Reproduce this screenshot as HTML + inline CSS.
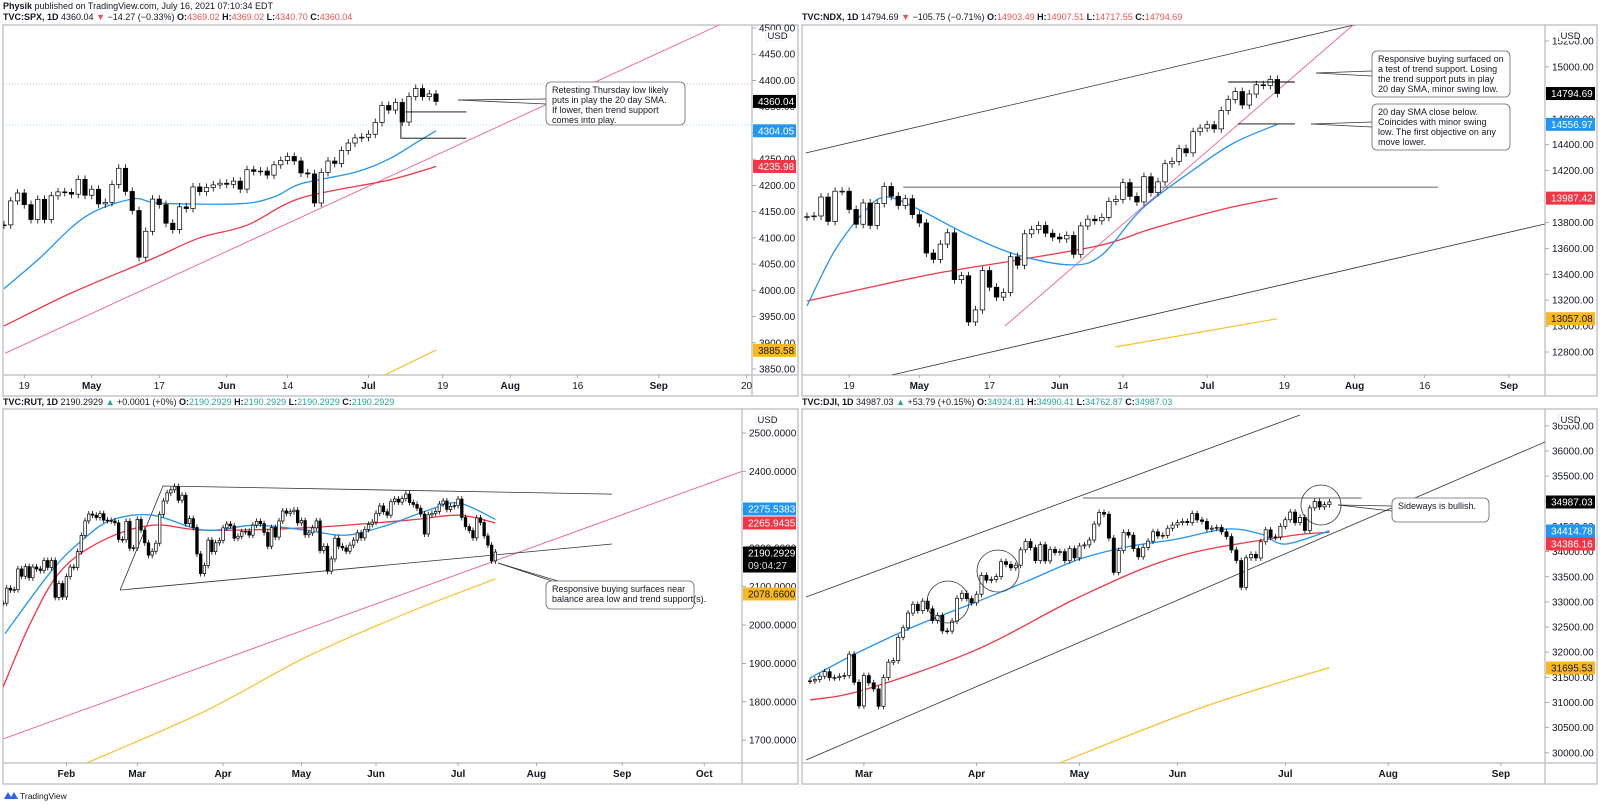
<!DOCTYPE html>
<html><head><meta charset="utf-8"><title>Index charts</title>
<style>
html,body{margin:0;padding:0;background:#fff;}
svg{display:block;font-family:"Liberation Sans",sans-serif;}
</style></head>
<body>
<svg id="chart" width="1600" height="805" viewBox="0 0 1600 805" xmlns="http://www.w3.org/2000/svg">
<text x="3" y="9" font-size="9" fill="#131722"><tspan font-weight="bold">Physik</tspan> published on TradingView.com, July 16, 2021 07:10:34 EDT</text>
<text x="3" y="20" font-size="9" fill="#131722"><tspan font-weight="bold">TVC:SPX, 1D</tspan> 4360.04 <tspan fill="#ef5350">▼</tspan> −14.27 (−0.33%) <tspan font-weight="bold">O:</tspan><tspan fill="#ef5350">4369.02</tspan> <tspan font-weight="bold">H:</tspan><tspan fill="#ef5350">4369.02</tspan> <tspan font-weight="bold">L:</tspan><tspan fill="#ef5350">4340.70</tspan> <tspan font-weight="bold">C:</tspan><tspan fill="#ef5350">4360.04</tspan></text>
<text x="802" y="20" font-size="9" fill="#131722"><tspan font-weight="bold">TVC:NDX, 1D</tspan> 14794.69 <tspan fill="#ef5350">▼</tspan> −105.75 (−0.71%) <tspan font-weight="bold">O:</tspan><tspan fill="#ef5350">14903.49</tspan> <tspan font-weight="bold">H:</tspan><tspan fill="#ef5350">14907.51</tspan> <tspan font-weight="bold">L:</tspan><tspan fill="#ef5350">14717.55</tspan> <tspan font-weight="bold">C:</tspan><tspan fill="#ef5350">14794.69</tspan></text>
<text x="3" y="405" font-size="9" fill="#131722"><tspan font-weight="bold">TVC:RUT, 1D</tspan> 2190.2929 <tspan fill="#26a69a">▲</tspan> +0.0001 (+0%) <tspan font-weight="bold">O:</tspan><tspan fill="#26a69a">2190.2929</tspan> <tspan font-weight="bold">H:</tspan><tspan fill="#26a69a">2190.2929</tspan> <tspan font-weight="bold">L:</tspan><tspan fill="#26a69a">2190.2929</tspan> <tspan font-weight="bold">C:</tspan><tspan fill="#26a69a">2190.2929</tspan></text>
<text x="802" y="405" font-size="9" fill="#131722"><tspan font-weight="bold">TVC:DJI, 1D</tspan> 34987.03 <tspan fill="#26a69a">▲</tspan> +53.79 (+0.15%) <tspan font-weight="bold">O:</tspan><tspan fill="#26a69a">34924.81</tspan> <tspan font-weight="bold">H:</tspan><tspan fill="#26a69a">34990.41</tspan> <tspan font-weight="bold">L:</tspan><tspan fill="#26a69a">34762.87</tspan> <tspan font-weight="bold">C:</tspan><tspan fill="#26a69a">34987.03</tspan></text>
<g>
<path d="M4 799 L8 792 L11 797 L14 792 L18 799 Z" fill="#2962ff"/>
<text x="20" y="799" font-size="8.5" fill="#131722">TradingView</text>
</g>
</svg>
<script>
// ---------- DATA ----------
const spxClose=[4124.66,4170.42,4185.47,4163.26,4134.94,4173.42,4134.98,4180.17,4187.62,4186.72,4183.18,4211.47,4181.17,4192.66,4164.66,4167.59,4201.62,4232.60,4188.43,4152.10,4063.04,4112.50,4173.85,4163.29,4127.83,4115.68,4159.12,4155.86,4197.05,4188.13,4195.99,4200.88,4204.11,4202.04,4208.12,4192.85,4229.89,4226.52,4227.26,4219.55,4239.18,4247.44,4255.15,4246.59,4223.70,4221.86,4166.45,4224.79,4246.44,4241.84,4266.49,4280.70,4290.61,4291.80,4297.50,4319.94,4352.34,4343.54,4358.13,4320.82,4369.55,4384.63,4369.21,4374.30,4360.03];
const spxSma20=[[0,4003],[5,4058],[12,4140],[19,4174],[23,4166],[35,4165],[40,4178],[44,4203],[52,4225],[57,4250],[61,4281],[64,4304]];
const spxSma50=[[0,3932],[10,3995],[21.6,4058],[29,4100],[36,4124],[44,4176],[57,4210],[64,4236]];
const spxSma200=[[55,3830],[64,3886]];
const spxTrend=[[0.15,3880],[106,4506]];
const spxTicks=[4500,4450,4400,4350,4300,4250,4200,4150,4100,4050,4000,3950,3900,3850];
const spxDates=[["19",3],["May",13],["17",23],["Jun",33],["14",42],["Jul",54],["19",65],["Aug",75],["16",85],["Sep",97],["20",110]];

const ndxClose=[13845,13850,13996,13808,14041,14041,13900,13786,13950,13777,13946,14078,14002,13931,13983,13860,13796,13564,13515,13633,13720,13359,13389,13032,13125,13429,13300,13224,13260,13535,13470,13712,13744,13777,13717,13687,13673,13700,13554,13773,13825,13813,13839,13962,13978,14107,14001,13958,14153,14030,14113,14253,14271,14369,14337,14500,14528,14554,14522,14663,14749,14810,14706,14791,14862,14857,14903,14795];
const ndxSma20=[[0,13155],[4,13587],[8.5,13904],[11.4,13996],[15.8,13904],[23,13703],[30,13549],[37.6,13472],[42,13549],[47.7,13904],[55,14204],[60.8,14413],[67,14557]];
const ndxSma50=[[0,13194],[8.5,13294],[18.7,13410],[30,13510],[42,13626],[49,13749],[59.4,13904],[67,13987]];
const ndxSma200=[[43.9,12839],[67,13057]];
const ndxUpper=[[-0.2,14336],[79.8,15347]];
const ndxLower=[[12.1,12623],[105.1,13788]];
const ndxTrend=[[28.2,13001],[78.3,15347]];
const ndxTicks=[15200,15000,14800,14600,14400,14200,14000,13800,13600,13400,13200,13000,12800];
const ndxDates=[["19",6],["May",16],["17",26],["Jun",36],["14",45],["Jul",57],["19",68],["Aug",78],["16",88],["Sep",100]];

const rutClose=[2057,2096,2091,2092,2146,2127,2152,2123,2151,2146,2142,2168,2150,2168,2072,2108,2073,2126,2151,2150,2191,2233,2271,2289,2286,2280,2290,2273,2272,2271,2266,2223,2222,2270,2200,2201,2275,2247,2214,2182,2192,2213,2288,2323,2344,2352,2361,2325,2338,2264,2277,2254,2185,2134,2155,2221,2191,2214,2220,2253,2263,2258,2226,2231,2243,2244,2234,2260,2270,2264,2241,2205,2254,2229,2271,2297,2291,2295,2299,2266,2272,2235,2240,2253,2271,2194,2205,2140,2172,2226,2205,2201,2192,2208,2221,2240,2227,2249,2262,2268,2291,2310,2295,2286,2321,2328,2320,2329,2341,2319,2314,2304,2289,2237,2287,2291,2296,2315,2323,2301,2309,2311,2328,2280,2256,2246,2227,2279,2267,2232,2208,2167,2190];
const rutSma20=[[0.5,1977],[13,2141],[21,2219],[29,2273],[40,2286],[54,2247],[67.6,2260],[81,2247],[92,2234],[103,2260],[114,2299],[122,2318],[132,2275]];
const rutSma50=[[0,1838],[7.5,2008],[15.5,2141],[26.5,2219],[40,2260],[54,2247],[81,2253],[108.6,2273],[122,2286],[132,2266]];
const rutSma200=[[22.5,1641],[54,1775],[81,1915],[108,2030],[132,2120]];
const rutTrend=[[0,1703],[198.1,2400]];
const rutBalance=[[31.4,2091],[42.9,2362],[163.3,2341]];
const rutBalanceLow=[[31.4,2091],[163.3,2211]];
const rutTicks=[2500,2400,2300,2200,2100,2000,1900,1800,1700];
const rutDates=[["Feb",17],["Mar",36],["Apr",59],["May",80],["Jun",100],["Jul",122],["Aug",143],["Sep",166],["Oct",188]];

const djiClose=[31430,31458,31522,31613,31493,31494,31521,31537,31961,31402,30932,31535,31391,31270,30924,31496,31802,31832,32297,32485,32779,32953,32825,33015,32862,32628,32731,32423,32420,32619,33072,33171,33066,32982,33153,33527,33430,33446,33503,33800,33745,33677,33730,34036,34200,34078,33821,34137,33815,34043,33981,34000,33820,34060,33875,34113,34133,34230,34548,34778,34743,34269,33587,34021,34382,34327,34060,33896,34084,34208,34394,34312,34323,34465,34529,34575,34600,34577,34756,34630,34600,34447,34466,34480,34394,34299,34033,33823,33290,33876,33945,33874,34196,34433,34283,34292,34503,34633,34786,34577,34681,34421,34870,34996,34888,34933,34987];
const djiSma20=[[0,31487],[9.6,31984],[21,32500],[34,33000],[44,33400],[55,33850],[65,34100],[75,34250],[85,34450],[92,34350],[97,34150],[106,34415]];
const djiSma50=[[0,31050],[11,31250],[34,32050],[55,33100],[75,33900],[97,34300],[106,34386]];
const djiSma200=[[51,29800],[80,30900],[106,31695]];
const djiUpper=[[-0.8,33097],[100,36716]];
const djiLower=[[-0.8,29857],[150,36179]];
const djiHigh=[[55.7,35066],[112.6,35066]];
const djiTicks=[36500,36000,35500,35000,34500,34000,33500,33000,32500,32000,31500,31000,30500,30000];
const djiDates=[["Mar",11],["Apr",34],["May",55],["Jun",75],["Jul",97],["Aug",118],["Sep",141]];

// ---------- DRAWING ----------
const NS="http://www.w3.org/2000/svg";
const svg=document.getElementById('chart');
function mk(tag,parent){const e=document.createElementNS(NS,tag);parent.appendChild(e);return e;}
function set(e,o){for(const k in o)e.setAttribute(k,o[k]);return e;}

function makePanel(id,P){
  P.x=k=>P.x0+P.dx*k;
  P.y=p=>P.yRef+(P.pRef-p)*P.s;
  const g=mk('g',svg);
  
  
  const cp=mk('clipPath',g);set(cp,{id:id+'-clip'});
  set(mk('rect',cp),{x:P.left,y:P.top,width:P.axisX-P.left,height:P.timeY-P.top});
  const frame=mk('rect',g);
  set(frame,{x:P.left,y:P.top,width:P.right-P.left,height:P.bottom-P.top,fill:'#fff',stroke:'#c3c5cb','stroke-width':1.5});
  
  
  const ax=mk('line',g);set(ax,{x1:P.axisX,y1:P.top,x2:P.axisX,y2:P.bottom,stroke:'#c3c5cb','stroke-width':1.5});
  
  
  const tx=mk('line',g);set(tx,{x1:P.left,y1:P.timeY,x2:P.right,y2:P.timeY,stroke:'#c3c5cb','stroke-width':1.5});
  
  
  const plot=mk('g',g);set(plot,{'clip-path':'url(#'+id+'-clip)'});
  
  
  P.g=g;P.plot=plot;P.id=id;
  return P;
}
function line(P,pts,color,w,name,smooth){
  const q=pts.map(a=>[P.x(a[0]),P.y(a[1])]);
  let d='M'+q[0][0].toFixed(1)+' '+q[0][1].toFixed(1);
  for(let i=1;i<q.length;i++){
    if(smooth&&q.length>2){
      const p0=q[i-2]||q[i-1],p1=q[i-1],p2=q[i],p3=q[i+1]||q[i];
      const c1=[p1[0]+(p2[0]-p0[0])/6,p1[1]+(p2[1]-p0[1])/6];
      const c2=[p2[0]-(p3[0]-p1[0])/6,p2[1]-(p3[1]-p1[1])/6];
      d+=' C'+c1[0].toFixed(1)+' '+c1[1].toFixed(1)+' '+c2[0].toFixed(1)+' '+c2[1].toFixed(1)+' '+p2[0].toFixed(1)+' '+p2[1].toFixed(1);
    } else d+=' L'+q[i][0].toFixed(1)+' '+q[i][1].toFixed(1);
  }
  const e=mk('path',P.plot);set(e,{d:d,fill:'none',stroke:color,'stroke-width':w});
  
  
}
function candles(P,closes){
  const cg=mk('g',P.plot);
  
  
  closes.forEach((c,i)=>{
    const o=i?closes[i-1]:c;
    const x=P.x(i),yo=P.y(o),yc=P.y(c);
    const top=Math.min(yo,yc),bot=Math.max(yo,yc);
    const w=mk('line',cg);set(w,{x1:x,x2:x,y1:top-P.wick,y2:bot+P.wick,stroke:'#000','stroke-width':0.8});
    
    
    const b=mk('rect',cg);set(b,{x:x-P.bw/2,y:top,width:P.bw,height:Math.max(bot-top,0.8),fill:c>=o?'#fff':'#000',stroke:'#000','stroke-width':0.7});
    
    
  });
}
function priceAxis(P,ticks,dec){
  ticks.forEach(t=>{
    const y=P.y(t);
    if(y<P.top+2||y>P.timeY-2)return;
    const tk=mk('line',P.g);set(tk,{x1:P.axisX,x2:P.axisX+4,y1:y,y2:y,stroke:'#999','stroke-width':0.8});
    
    
    const tt=mk('text',P.g);set(tt,{x:P.axisX+7,y:y+3.5,'font-size':10,fill:'#131722'});
    tt.textContent=t.toFixed(dec);
    
    
  });
  const ub=mk('rect',P.g);set(ub,{x:P.axisX+14,y:P.top+5,width:18,height:11,rx:2,fill:'#fff',stroke:'#ddd','stroke-width':0.6});
  
  
  const ut=mk('text',P.g);set(ut,{x:P.axisX+15.5,y:P.top+14,'font-size':9.5,fill:'#131722'});
  ut.textContent='USD';
  
  
}
function tag(P,y,text,bg,fg,name,h){
  h=h||13;
  const r=mk('rect',P.g);set(r,{x:P.axisX+1,y:y-6.5,width:P.right-P.axisX-3,height:h,fill:bg});
  
  
  const t=mk('text',P.g);set(t,{x:P.axisX+6,y:y+3.5,'font-size':10,fill:fg});
  t.textContent=text;
  
  
  return t;
}
function timeAxis(P,dates){
  dates.forEach(d=>{
    const x=P.x(d[1]);
    if(x>P.axisX-5)return;
    const tk=mk('line',P.g);set(tk,{x1:x,x2:x,y1:P.timeY,y2:P.timeY+3,stroke:'#999','stroke-width':0.8});
    
    
    const t=mk('text',P.g);set(t,{x:x,y:P.timeY+14,'font-size':10,fill:'#131722','text-anchor':'middle'});
    if(/[A-Za-z]/.test(d[0]))t.setAttribute('font-weight','bold');
    t.textContent=d[0];
    
    
  });
}
function callout(x,y,w,h,lines,name){
  const g=mk('g',svg);
  
  
  set(mk('rect',g),{x:x,y:y,width:w,height:h,rx:5,fill:'#fff',stroke:'#666','stroke-width':0.8});
  lines.forEach((s,i)=>{const t=mk('text',g);set(t,{x:x+6,y:y+11+i*10,'font-size':9,fill:'#131722'});t.textContent=s;});
}
function seg(x1,y1,x2,y2,name,color){
  const e=mk('line',svg);set(e,{x1:x1,y1:y1,x2:x2,y2:y2,stroke:color||'#333','stroke-width':0.8});
  
  
}

// ---- SPX panel ----
const A=makePanel('spx',{left:3,top:25,right:798,bottom:396,axisX:752,timeY:375,x0:4,dx:6.75,pRef:4500,yRef:28,s:0.5246,bw:4.4,wick:4});
set(mk('line',A.plot),{x1:3,x2:752,y1:84,y2:84,stroke:'#f4a6a6','stroke-width':0.7,'stroke-dasharray':'1 2'});
set(mk('line',A.plot),{x1:3,x2:752,y1:125,y2:125,stroke:'#90caf9','stroke-width':0.7,'stroke-dasharray':'1 2'});
line(A,spxTrend,'#f06292',0.9,'spx-trend-support');
line(A,spxSma200,'#fbc02d',1.2,'spx-sma200',true);
line(A,spxSma50,'#f23645',1.3,'spx-sma50',true);
line(A,spxSma20,'#2196f3',1.3,'spx-sma20',true);
candles(A,spxClose);
line(A,[[59.5,4340],[68.5,4340]],'#000',0.9,'spx-thursday-low');
line(A,[[58.8,4332],[58.8,4290],[68.5,4290]],'#000',0.9,'spx-swing-low');
priceAxis(A,spxTicks,2);
tag(A,A.y(4360.04),'4360.04','#000','#fff','spx-last-price-tag');
tag(A,A.y(4304.05),'4304.05','#2196f3','#fff','spx-sma20-tag');
tag(A,A.y(4235.98),'4235.98','#f23645','#fff','spx-sma50-tag');
tag(A,A.y(3885.58),'3885.58','#f9b820','#131722','spx-sma200-tag');
timeAxis(A,spxDates);

// ---- NDX panel ----
const B=makePanel('ndx',{left:802,top:25,right:1597,bottom:396,axisX:1545,timeY:375,x0:807,dx:7.02,pRef:15200,yRef:41,s:0.1296,bw:4.6,wick:4});
line(B,ndxUpper,'#333',0.8,'ndx-channel-upper');
line(B,ndxLower,'#333',0.8,'ndx-channel-lower');
line(B,ndxTrend,'#f06292',0.9,'ndx-trend-support');
line(B,[[13.7,14073],[89.9,14073]],'#333',0.8,'ndx-may-high');
line(B,ndxSma200,'#fbc02d',1.2,'ndx-sma200',true);
line(B,ndxSma50,'#f23645',1.3,'ndx-sma50',true);
line(B,ndxSma20,'#2196f3',1.3,'ndx-sma20',true);
candles(B,ndxClose);
line(B,[[60,14884],[69.5,14884]],'#000',0.9,'ndx-test-level');
line(B,[[61.4,14560],[69.5,14560]],'#000',0.9,'ndx-swing-low');
priceAxis(B,ndxTicks,2);
tag(B,B.y(14794.69),'14794.69','#000','#fff','ndx-last-price-tag');
tag(B,B.y(14556.97),'14556.97','#2196f3','#fff','ndx-sma20-tag');
tag(B,B.y(13987.42),'13987.42','#f23645','#fff','ndx-sma50-tag');
tag(B,B.y(13057.08),'13057.08','#f9b820','#131722','ndx-sma200-tag');
timeAxis(B,ndxDates);

// ---- RUT panel ----
const C=makePanel('rut',{left:3,top:409,right:798,bottom:784,axisX:742,timeY:763,x0:3,dx:3.73,pRef:2500,yRef:433,s:0.384,bw:2.6,wick:3});
line(C,rutTrend,'#f06292',0.9,'rut-trend-support');
line(C,rutBalance,'#333',0.8,'rut-balance-high');
line(C,rutBalanceLow,'#333',0.8,'rut-balance-low');
line(C,rutSma200,'#fbc02d',1.2,'rut-sma200',true);
line(C,rutSma50,'#f23645',1.3,'rut-sma50',true);
line(C,rutSma20,'#2196f3',1.3,'rut-sma20',true);
candles(C,rutClose);
priceAxis(C,rutTicks,4);
tag(C,509,'2275.5383','#2196f3','#fff','rut-sma20-tag');
tag(C,523,'2265.9435','#f23645','#fff','rut-sma50-tag');
tag(C,553,'2190.2929','#000','#fff','rut-last-price-tag',26);
{const t=mk('text',C.g);set(t,{x:C.axisX+6,y:569,'font-size':10,fill:'#ddd'});t.textContent='09:04:27';

}
tag(C,594,'2078.6600','#f9b820','#131722','rut-sma200-tag');
timeAxis(C,rutDates);

// ---- DJI panel ----
const D=makePanel('dji',{left:802,top:409,right:1597,bottom:784,axisX:1545,timeY:763,x0:810,dx:4.9,pRef:36000,yRef:451,s:0.0503,bw:3.2,wick:3});
line(D,djiUpper,'#333',0.8,'dji-channel-upper');
line(D,djiLower,'#333',0.8,'dji-channel-lower');
line(D,djiHigh,'#333',0.8,'dji-may-high');
line(D,djiSma200,'#fbc02d',1.2,'dji-sma200',true);
line(D,djiSma50,'#f23645',1.3,'dji-sma50',true);
line(D,djiSma20,'#2196f3',1.3,'dji-sma20',true);
candles(D,djiClose);
[[948,602,21],[998,571,21],[1321,505,20]].forEach(c=>{
  const e=mk('circle',D.plot);set(e,{cx:c[0],cy:c[1],r:c[2],fill:'none',stroke:'#333','stroke-width':0.8});
  
  
});
priceAxis(D,djiTicks,2);
tag(D,502,'34987.03','#000','#fff','dji-last-price-tag');
tag(D,531,'34414.78','#2196f3','#fff','dji-sma20-tag');
tag(D,544,'34386.16','#f23645','#fff','dji-sma50-tag');
tag(D,668,'31695.53','#f9b820','#131722','dji-sma200-tag');
timeAxis(D,djiDates);

// ---- Callouts ----
seg(546,99,458,100,'spx-callout-pointer');seg(546,104,458,100,'spx-callout-pointer');
callout(546,82,139,43,['Retesting Thursday low likely','puts in play the 20 day SMA.','If lower, then trend support','comes into play.'],'spx-callout');
seg(1372,71,1316,73,'ndx-callout-pointer');seg(1372,76,1316,73,'ndx-callout-pointer');
callout(1372,51,138,46,['Responsive buying surfaced on','a test of trend support. Losing','the trend support puts in play','20 day SMA, minor swing low.'],'ndx-callout-1');
seg(1372,122,1311,124,'ndx-callout-pointer');seg(1372,127,1311,124,'ndx-callout-pointer');
callout(1372,104,138,46,['20 day SMA close below.','Coincides with minor swing','low. The first objective on any','move lower.'],'ndx-callout-2');
seg(552,581,498,563,'rut-callout-pointer');seg(558,581,498,563,'rut-callout-pointer');
callout(546,581,148,28,['Responsive buying surfaces near','balance area low and trend support(s).'],'rut-callout');
seg(1392,506,1338,505,'dji-callout-pointer');seg(1392,511,1338,505,'dji-callout-pointer');
callout(1392,498,97,24,['Sideways is bullish.'],'dji-callout');
</script>
</body></html>
